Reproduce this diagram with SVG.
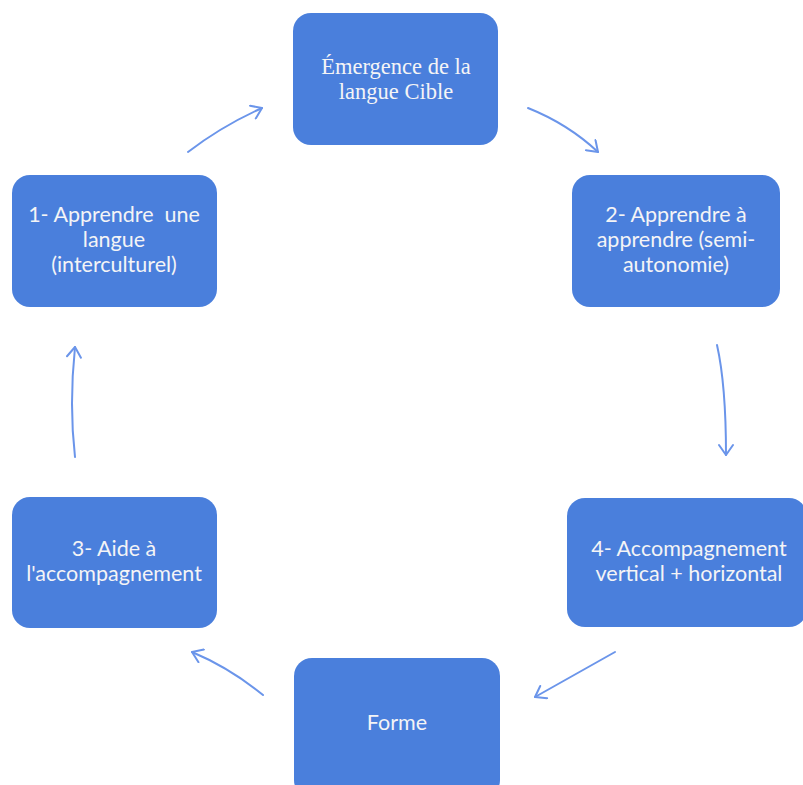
<svg xmlns="http://www.w3.org/2000/svg" width="803" height="785" viewBox="0 0 803 785">
<style>
.box{fill:#4a7fdc;}
.t{fill:#f4f4f6;font-family:"Lato","Open Sans","Liberation Sans",sans-serif;font-size:21.5px;text-anchor:middle;}
.s{fill:#f4f4f6;font-family:"Liberation Serif",serif;font-size:22.5px;text-anchor:middle;}
.c{fill:none;stroke:#6b95ea;stroke-width:2;stroke-linecap:round;}
</style>
<defs>
<marker id="ah" markerWidth="16" markerHeight="16" refX="12" refY="8" orient="auto" markerUnits="userSpaceOnUse">
<path d="M2,1 L12,8 L2,15" fill="none" stroke="#6b95ea" stroke-width="2" stroke-linecap="round" stroke-linejoin="round"/>
</marker>
</defs>
<rect width="803" height="785" fill="#ffffff"/>
<g id="node-top">
<rect class="box" x="293" y="13" width="205" height="132" rx="18"/>
<text class="s" x="396" y="74">Émergence de la</text>
<text class="s" x="396" y="99">langue Cible</text>
</g>
<g id="node-1">
<rect class="box" x="12" y="175" width="205" height="132" rx="18"/>
<text class="t" x="114" y="222" xml:space="preserve">1- Apprendre  une</text>
<text class="t" x="114" y="247">langue</text>
<text class="t" x="114" y="272">(interculturel)</text>
</g>
<g id="node-2">
<rect class="box" x="572" y="175" width="208" height="132" rx="18"/>
<text class="t" x="676" y="222">2- Apprendre à</text>
<text class="t" x="676" y="247">apprendre (semi-</text>
<text class="t" x="676" y="272">autonomie)</text>
</g>
<g id="node-3">
<rect class="box" x="12" y="497" width="205" height="131" rx="18"/>
<text class="t" x="114" y="556">3- Aide à</text>
<text class="t" x="114" y="581">l'accompagnement</text>
</g>
<g id="node-4">
<rect class="box" x="567" y="498" width="240" height="129" rx="18"/>
<text class="t" x="689" y="556">4- Accompagnement</text>
<text class="t" x="689" y="581">vertical + horizontal</text>
</g>
<g id="node-forme">
<rect class="box" x="294" y="658" width="206" height="140" rx="18"/>
<text class="t" x="397" y="730">Forme</text>
</g>
<g id="connectors">
<path class="c" d="M188,152 Q222,126 262,108" marker-end="url(#ah)"/>
<path class="c" d="M528,108 Q568,124 598,152" marker-end="url(#ah)"/>
<path class="c" d="M717,345 Q726,385 726,455" marker-end="url(#ah)"/>
<path class="c" d="M615,652 Q572,676 535,697" marker-end="url(#ah)"/>
<path class="c" d="M263,695 Q230,668 192,652" marker-end="url(#ah)"/>
<path class="c" d="M75,457 Q69,405 75,347" marker-end="url(#ah)"/>
</g>
</svg>
